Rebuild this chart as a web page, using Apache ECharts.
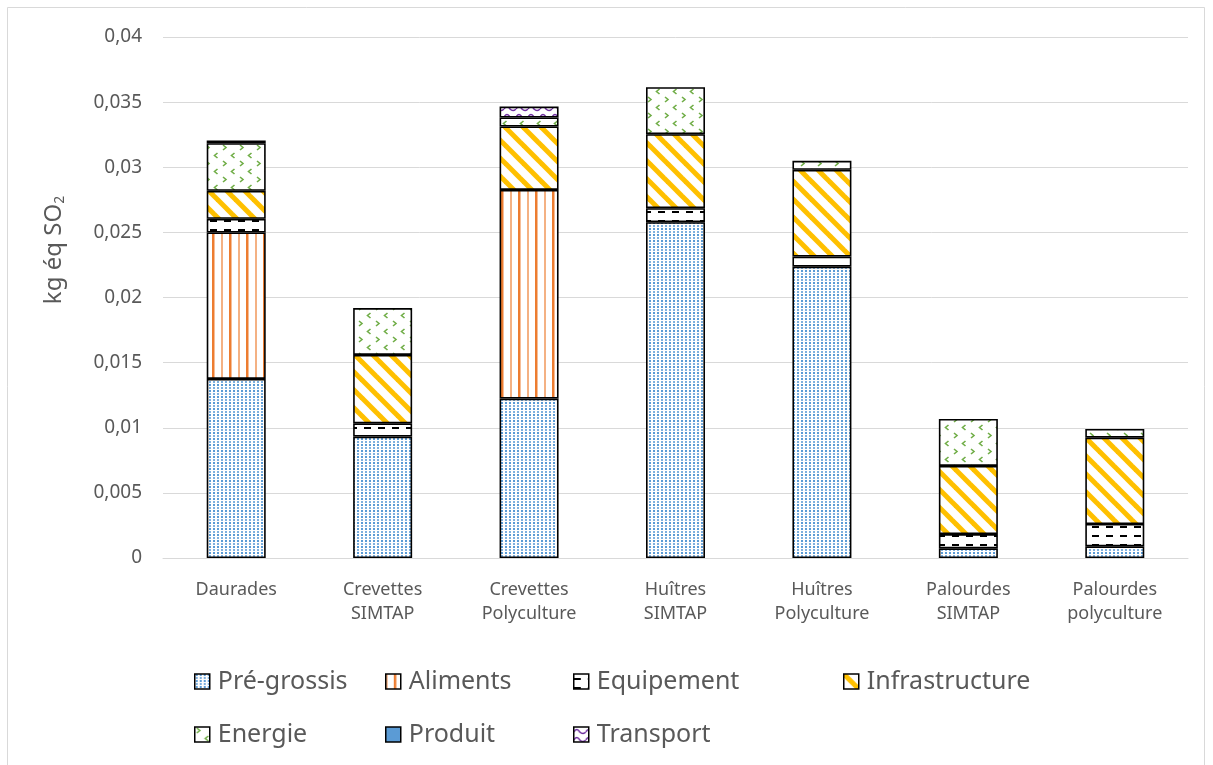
<!DOCTYPE html>
<html>
<head>
<meta charset="utf-8">
<script src="https://cdn.jsdelivr.net/npm/echarts@6/dist/echarts.min.js"></script>
<style>
  html, body { margin: 0; padding: 0; background: #fff; }
  #chart { width: 1213px; height: 765px; }
</style>
</head>
<body>
<div id="chart"></div>
<script>
// catégories et contributions (kg éq SO2)
let categories = ["Daurades", "Crevettes\nSIMTAP", "Crevettes\nPolyculture", "Huîtres\nSIMTAP", "Huîtres\nPolyculture", "Palourdes\nSIMTAP", "Palourdes\npolyculture"];
let preGrossis = [0.01375, 0.00932, 0.01224, 0.02578, 0.02237, 0.00074, 0.0009];
let aliments = [0.01124, 0, 0.01602, 0, 0, 0, 0];
let equipement = [0.00105, 0.00102, 0, 0.00108, 0.00077, 0.0011, 0.00171];
let infrastructure = [0.00215, 0.00525, 0.00487, 0.00568, 0.00666, 0.00523, 0.00663];
let energie = [0.00366, 0.0036, 0.00069, 0.00361, 0.00069, 0.00361, 0.00067];
let produit = [0.0002, 0, 0, 0, 0, 0, 0];
let transport = [0, 0, 0.00084, 0, 0, 0, 0];
let yTicks = [0, 0.005, 0.01, 0.015, 0.02, 0.025, 0.03, 0.035, 0.04];

function makePattern(w, h, draw) {
  let c = document.createElement("canvas");
  c.width = w;
  c.height = h;
  let ctx = c.getContext("2d");
  ctx.fillStyle = "#fff";
  ctx.fillRect(0, 0, w, h);
  draw(ctx);
  return { image: c, repeat: "repeat" };
}

let dotsBlue = makePattern(4, 6, ctx => {
  ctx.fillStyle = "#5B9BD5";
  ctx.fillRect(1, 0, 2, 2);
  ctx.fillStyle = "#7FB0DE";
  ctx.fillRect(1, 3, 2, 2);
});
let vertOrange = makePattern(17, 2, ctx => {
  ctx.fillStyle = "#F4B183";
  ctx.fillRect(0, 0, 2, 2);
  ctx.fillStyle = "#ED7D31";
  ctx.fillRect(8, 0, 2.5, 2);
});
let dashBlack = makePattern(14, 9, ctx => {
  ctx.fillStyle = "#000";
  ctx.fillRect(0, 4, 7, 2);
});
let diagYellow = makePattern(18, 18, ctx => {
  ctx.strokeStyle = "#FFC000";
  ctx.lineWidth = 5;
  for (let k = -1; k <= 1; k++) {
    ctx.beginPath();
    ctx.moveTo(k * 18 - 2, -2);
    ctx.lineTo(k * 18 + 20, 20);
    ctx.stroke();
  }
});
let chevronGreen = makePattern(17, 16, ctx => {
  ctx.strokeStyle = "#70AD47";
  ctx.lineWidth = 1.6;
  ctx.beginPath();
  ctx.moveTo(2, 1); ctx.lineTo(5, 3.5); ctx.lineTo(2, 6);
  ctx.stroke();
  ctx.beginPath();
  ctx.moveTo(13.5, 9); ctx.lineTo(10.5, 11.5); ctx.lineTo(13.5, 14);
  ctx.stroke();
});
let wavePurple = makePattern(12, 8, ctx => {
  ctx.strokeStyle = "#7030A0";
  ctx.lineWidth = 1.5;
  ctx.beginPath();
  ctx.moveTo(0, 5);
  ctx.quadraticCurveTo(3, 0, 6, 5);
  ctx.quadraticCurveTo(9, 8, 12, 5);
  ctx.stroke();
});

let seriesList = [
  { name: "Pré-grossis", data: preGrossis, color: dotsBlue },
  { name: "Aliments", data: aliments, color: vertOrange },
  { name: "Equipement", data: equipement, color: dashBlack },
  { name: "Infrastructure", data: infrastructure, color: diagYellow },
  { name: "Energie", data: energie, color: chevronGreen },
  { name: "Produit", data: produit, color: "#5B9BD5" },
  { name: "Transport", data: transport, color: wavePurple }
];

// position des entrées de légende
let legendPos = [[189, 664], [380, 664], [568, 664], [838, 664], [189, 717], [380, 717], [568, 717]];

let chartDom = document.getElementById("chart");
let myChart = echarts.init(chartDom);

let option = {
  animation: false,
  backgroundColor: "#fff",
  grid: { left: 163, right: 25, top: 37, bottom: 207 },
  graphic: [
    {
      type: "rect",
      shape: { x: 7.5, y: 7.5, width: 1197, height: 800 },
      style: { fill: null, stroke: "#D9D9D9", lineWidth: 1 },
      silent: true
    },
    {
      type: "text",
      x: 54,
      y: 250,
      rotation: Math.PI / 2,
      style: {
        text: "{a|kg éq SO}{b|2}",
        align: "center",
        verticalAlign: "middle",
        rich: {
          a: { fontFamily: "Noto Sans", fontSize: 24, fill: "#595959" },
          b: { fontFamily: "Noto Sans", fontSize: 14, fill: "#595959", padding: [12, 0, 0, 0] }
        }
      }
    }
  ],
  legend: seriesList.map((s, i) => ({
    data: [s.name],
    left: legendPos[i][0],
    top: legendPos[i][1],
    icon: "rect",
    itemWidth: 15,
    itemHeight: 15,
    itemStyle: { borderColor: "#000", borderWidth: 1.5 },
    textStyle: { fontFamily: "Noto Sans", fontSize: 25, color: "#595959", padding: [0, 0, 0, 3] }
  })),
  xAxis: {
    type: "category",
    data: categories,
    axisLine: { lineStyle: { color: "#D9D9D9", width: 1 } },
    axisTick: { show: false },
    axisLabel: { fontFamily: "Noto Sans", fontSize: 18, color: "#595959", lineHeight: 24, margin: 20 }
  },
  yAxis: {
    type: "value",
    min: yTicks[0],
    max: yTicks[yTicks.length - 1],
    interval: yTicks[1] - yTicks[0],
    splitLine: { lineStyle: { color: "#D9D9D9", width: 1 } },
    axisLine: { show: false },
    axisTick: { show: false },
    axisLabel: {
      fontFamily: "Noto Sans",
      fontSize: 19,
      color: "#595959",
      margin: 21,
      formatter: v => String(+v.toFixed(3)).replace(".", ",")
    }
  },
  series: seriesList.map(s => ({
    name: s.name,
    type: "bar",
    stack: "total",
    barWidth: 59,
    data: s.data.map(v => (v ? v : null)),
    itemStyle: { color: s.color, borderColor: "#000", borderWidth: 1.6 }
  }))
};

myChart.setOption(option);
</script>
</body>
</html>
